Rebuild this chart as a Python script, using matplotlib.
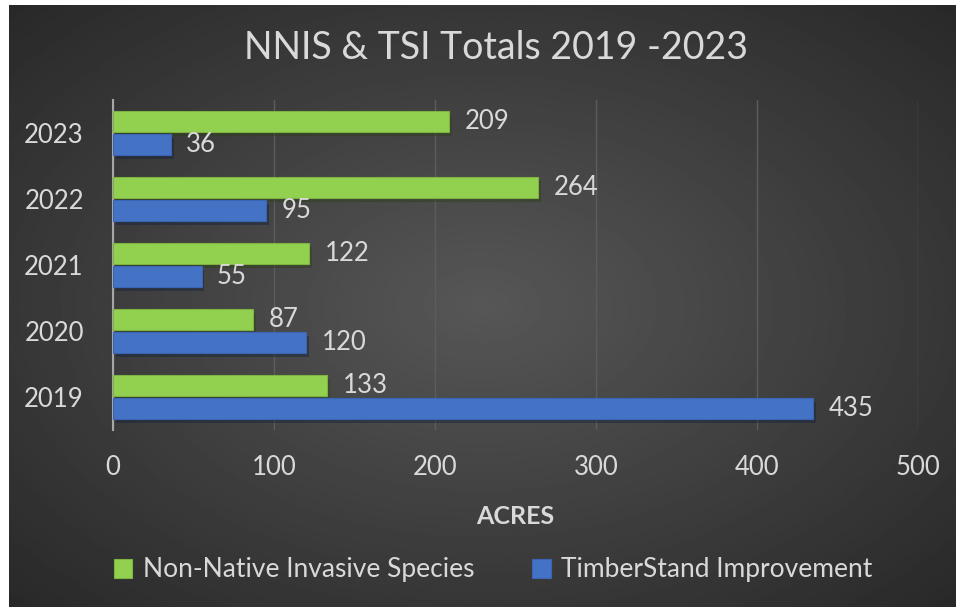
import numpy as np
import matplotlib.pyplot as plt
import matplotlib.patheffects as pe

years = ["2019", "2020", "2021", "2022", "2023"]
nnis = [133, 87, 122, 264, 209]
tsi = [435, 120, 55, 95, 36]
labels = ["Non-Native Invasive Species", "TimberStand Improvement"]

txt = "#d9d9d9"
green = "#92d050"
blue = "#4472c4"

plt.rcParams["font.family"] = ["Lato", "DejaVu Sans"]

W, H = 958, 609
fig = plt.figure(figsize=(W / 100, H / 100), dpi=100)
fig.patch.set_facecolor("white")

# dark radial background
bg = fig.add_axes([9 / W, 2 / H, 947 / W, 602 / H], zorder=0)
yy, xx = np.mgrid[-1:1:300j, -1:1:480j]
r = np.sqrt(xx ** 2 + yy ** 2) / np.sqrt(2)
grad = 0.34 - 0.18 * r
bg.imshow(grad, cmap="gray", vmin=0, vmax=1, aspect="auto", extent=[0, 1, 0, 1])
bg.axis("off")

ax = fig.add_axes([113 / W, 1 - 430 / H, 805 / W, 330 / H], zorder=1)
ax.patch.set_alpha(0)

y = np.arange(len(years))
h = 0.31
shadow = [pe.SimplePatchShadow(offset=(2, -3), alpha=0.45), pe.Normal()]
b1 = ax.barh(y + h / 2 + 0.02, nnis, height=h, color=green, edgecolor="#7fb340",
             linewidth=0.8, label=labels[0], path_effects=shadow, zorder=3)
b2 = ax.barh(y - h / 2 - 0.02, tsi, height=h, color=blue, edgecolor="#3a64b4",
             linewidth=0.8, label=labels[1], path_effects=shadow, zorder=3)
for bars, vals in ((b1, nnis), (b2, tsi)):
    for bar, v in zip(bars, vals):
        ax.text(v + 9.5, bar.get_y() + bar.get_height() / 2, str(v), color=txt,
                fontsize=18.5, va="center", ha="left")

ax.set_xlim(0, 500)
ax.set_ylim(-0.5, 4.5)
ax.set_xticks(range(0, 501, 100))
ax.set_yticks(y)
ax.set_yticklabels(years)
ax.tick_params(colors=txt, labelsize=18.5, length=0)
ax.tick_params(axis="y", pad=21)
ax.tick_params(axis="x", pad=18)
ax.xaxis.grid(True, color="#5c5c5c", linewidth=1)
ax.set_axisbelow(True)
for s in ["top", "right", "bottom"]:
    ax.spines[s].set_visible(False)
ax.spines["left"].set_color("#a6a6a6")
ax.spines["left"].set_linewidth(1.5)
ax.set_xlabel("ACRES", color=txt, fontsize=18, fontweight="bold", labelpad=18)

fig.text(496 / W, 1 - 48 / H, "NNIS & TSI Totals 2019 -2023", color=txt,
         fontsize=27, ha="center", va="center")

leg = fig.legend(handles=[b1, b2], labels=labels, loc="center",
                 bbox_to_anchor=(493 / W, 1 - 570 / H), ncol=2, frameon=False,
                 fontsize=19, handlelength=0.7, handleheight=0.7,
                 columnspacing=2.2, handletextpad=0.4)
for t in leg.get_texts():
    t.set_color(txt)
for hd in leg.legend_handles:
    hd.set_path_effects([])

fig.savefig("out.png", dpi=100)
